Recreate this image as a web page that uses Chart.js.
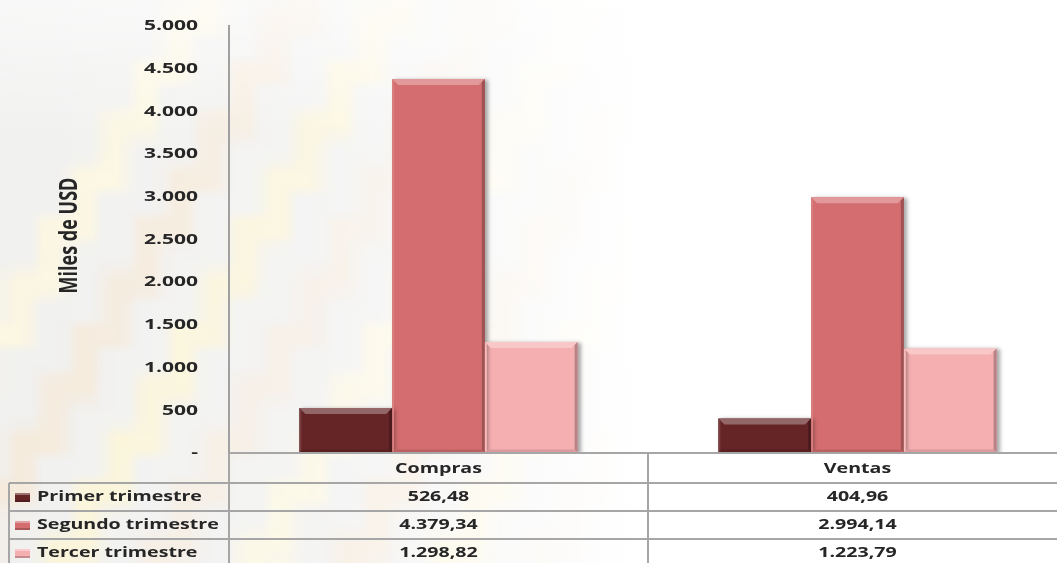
<!DOCTYPE html>
<html>
<head>
<meta charset="utf-8">
<script src="https://cdn.jsdelivr.net/npm/chart.js@4.4.0/dist/chart.umd.min.js"></script>
<style>
  html, body { margin: 0; padding: 0; background: #fff; overflow: hidden; }
  #wrap { width: 1067px; height: 563px; }
</style>
</head>
<body>
<div id="wrap"><canvas id="grafico"></canvas></div>
<script>
var categorias = ['Compras', 'Ventas'];
var series = ['Primer trimestre', 'Segundo trimestre', 'Tercer trimestre'];
var primer = [526.48, 404.96];
var segundo = [4379.34, 2994.14];
var tercer = [1298.82, 1223.79];
var tituloY = 'Miles de USD';
var colores = ['#652426', '#d46d6f', '#f6afb1'];

var ESTIRA = 1.4;   // el texto del original esta ensanchado
var TXT = '#262626';

function numES(v, dec) {
    var s = v.toFixed(dec);
    var partes = s.split('.');
    var ent = partes[0].replace(/\B(?=(\d{3})+(?!\d))/g, '.');
    return partes.length > 1 ? ent + ',' + partes[1] : ent;
}

function shade(hex, amt) {
    var n = parseInt(hex.slice(1), 16);
    var r = (n >> 16) & 255, g = (n >> 8) & 255, b = n & 255;
    function f(c) { return Math.max(0, Math.min(255, Math.round(amt > 0 ? c + (255 - c) * amt : c * (1 + amt)))); }
    return 'rgb(' + f(r) + ',' + f(g) + ',' + f(b) + ')';
}

function texto(ctx, s, x, y, align) {
    ctx.save();
    ctx.translate(x, y);
    ctx.scale(ESTIRA, 1);
    ctx.textAlign = align;
    ctx.fillText(s, 0, 0);
    ctx.restore();
}

// fondo con marca de agua pixelada
var fondo = {
    id: 'fondo',
    beforeDraw: function(chart) {
        var ctx = chart.ctx, W = chart.width, H = chart.height;
        var off = document.createElement('canvas');
        off.width = 88; off.height = 47;
        var o = off.getContext('2d');
        o.fillStyle = '#efefee';
        o.fillRect(0, 0, 88, 47);
        o.lineWidth = 2.2;
        var tonos = ['rgba(251,246,222,1)', 'rgba(244,232,216,1)', 'rgba(250,243,212,1)', 'rgba(243,234,222,1)'];
        for (var k = 0; k < 8; k++) {
            var x0 = -14 + k * 8, y0 = 50;
            o.strokeStyle = tonos[k % 4];
            o.beginPath();
            o.moveTo(x0, y0);
            for (var s = 0; s < 12; s++) {
                x0 += 2.6; o.lineTo(x0, y0);
                y0 -= 4.4; o.lineTo(x0, y0);
            }
            o.stroke();
        }
        ctx.save();
        ctx.imageSmoothingEnabled = true;
        ctx.drawImage(off, 0, 0, W, H);
        var g = ctx.createLinearGradient(0, 0, W, 0);
        g.addColorStop(0, 'rgba(255,255,255,0.1)');
        g.addColorStop(0.3, 'rgba(255,255,255,0.35)');
        g.addColorStop(0.6, 'rgba(255,255,255,1)');
        g.addColorStop(1, 'rgba(255,255,255,1)');
        ctx.fillStyle = g;
        ctx.fillRect(0, 0, W, H);
        var g2 = ctx.createLinearGradient(0, 0, 0, 140);
        g2.addColorStop(0, 'rgba(255,255,255,0.55)');
        g2.addColorStop(1, 'rgba(255,255,255,0)');
        ctx.fillStyle = g2;
        ctx.fillRect(0, 0, W, 140);
        ctx.restore();
    }
};

// etiquetas y titulo del eje Y, dibujados ensanchados
var ejeY = {
    id: 'ejeY',
    afterDraw: function(chart) {
        var ctx = chart.ctx, y = chart.scales.y;
        ctx.save();
        ctx.fillStyle = TXT;
        ctx.textBaseline = 'middle';
        ctx.font = 'bold 15px "Open Sans"';
        y.ticks.forEach(function(t, i) {
            var s = t.value === 0 ? '-' : numES(t.value, 0);
            texto(ctx, s, y.right - 31, y.getPixelForTick(i), 'right');
        });
        ctx.font = 'bold 18px "Open Sans"';
        ctx.translate(70, (y.top + y.bottom) / 2 - 4);
        ctx.scale(ESTIRA, 1);
        ctx.rotate(-Math.PI / 2);
        ctx.textAlign = 'center';
        ctx.fillText(tituloY, 0, 0);
        ctx.restore();
    }
};

// sombra y bisel de las barras
var bisel = {
    id: 'bisel',
    beforeDatasetsDraw: function(chart) {
        var ctx = chart.ctx;
        ctx.save();
        ctx.shadowColor = 'rgba(0,0,0,0.35)';
        ctx.shadowBlur = 4;
        ctx.shadowOffsetX = 3;
        ctx.shadowOffsetY = 1;
    },
    afterDatasetsDraw: function(chart) {
        var ctx = chart.ctx;
        ctx.restore();
        ctx.save();
        chart.data.datasets.forEach(function(ds, i) {
            chart.getDatasetMeta(i).data.forEach(function(bar) {
                var l = bar.x - bar.width / 2, r = bar.x + bar.width / 2;
                var t = bar.y, b = bar.base, e = 6;
                var c = colores[i];
                ctx.fillStyle = shade(c, 0.3);
                ctx.beginPath();
                ctx.moveTo(l, t); ctx.lineTo(r, t); ctx.lineTo(r - e, t + e); ctx.lineTo(l + e, t + e); ctx.closePath();
                ctx.fill();
                ctx.fillStyle = shade(c, -0.25);
                ctx.beginPath();
                ctx.moveTo(r, t); ctx.lineTo(r, b); ctx.lineTo(r - 3, b - 3); ctx.lineTo(r - 3, t + 3); ctx.closePath();
                ctx.fill();
                ctx.fillStyle = shade(c, -0.12);
                ctx.beginPath();
                ctx.moveTo(l, b); ctx.lineTo(r, b); ctx.lineTo(r - 3, b - 3); ctx.lineTo(l + 3, b - 3); ctx.closePath();
                ctx.fill();
                ctx.fillStyle = shade(c, 0.12);
                ctx.beginPath();
                ctx.moveTo(l, t); ctx.lineTo(l + 2, t + 2); ctx.lineTo(l + 2, b - 2); ctx.lineTo(l, b); ctx.closePath();
                ctx.fill();
            });
        });
        ctx.restore();
    }
};

// tabla de datos bajo el grafico
var tabla = {
    id: 'tabla',
    afterDraw: function(chart) {
        var ctx = chart.ctx, x = chart.scales.x, area = chart.chartArea;
        var top = area.bottom, hHead = 30, hRow = 28;
        var xLeft = 9, xMid = (x.getPixelForValue(0) + x.getPixelForValue(1)) / 2;
        var xEnd = chart.width;
        ctx.save();
        ctx.strokeStyle = '#a6a6a6';
        ctx.lineWidth = 2;
        ctx.beginPath();
        ctx.moveTo(area.left, top); ctx.lineTo(xEnd, top);
        for (var r = 0; r < 3; r++) {
            var yy = top + hHead + r * hRow;
            ctx.moveTo(xLeft, yy); ctx.lineTo(xEnd, yy);
        }
        ctx.moveTo(xLeft, top + hHead); ctx.lineTo(xLeft, chart.height);
        ctx.moveTo(area.left, top); ctx.lineTo(area.left, chart.height);
        ctx.moveTo(xMid, top); ctx.lineTo(xMid, chart.height);
        ctx.stroke();

        ctx.font = 'bold 14px "Open Sans"';
        ctx.fillStyle = TXT;
        ctx.textBaseline = 'middle';
        var centros = [x.getPixelForValue(0), x.getPixelForValue(1)];
        categorias.forEach(function(c, j) {
            texto(ctx, c, centros[j], top + hHead / 2 + 1, 'center');
        });
        var valores = [primer, segundo, tercer];
        series.forEach(function(s, i) {
            var yc = top + hHead + i * hRow + hRow / 2;
            ctx.fillStyle = colores[i];
            ctx.fillRect(15, yc - 4, 15, 9);
            ctx.fillStyle = shade(colores[i], 0.35);
            ctx.fillRect(15, yc - 4, 15, 2);
            ctx.fillStyle = shade(colores[i], -0.2);
            ctx.fillRect(15, yc + 3, 15, 2);
            ctx.fillStyle = TXT;
            texto(ctx, s, 37, yc, 'left');
            valores[i].forEach(function(v, j) {
                texto(ctx, numES(v, 2), centros[j], yc, 'center');
            });
        });
        ctx.restore();
    }
};

new Chart(document.getElementById('grafico').getContext('2d'), {
    type: 'bar',
    data: {
        labels: categorias,
        datasets: [
            { label: series[0], data: primer, backgroundColor: colores[0] },
            { label: series[1], data: segundo, backgroundColor: colores[1] },
            { label: series[2], data: tercer, backgroundColor: colores[2] }
        ]
    },
    options: {
        responsive: true,
        maintainAspectRatio: false,
        animation: false,
        layout: { padding: { top: 26, right: 0, bottom: 110, left: 0 } },
        datasets: { bar: { categoryPercentage: 0.664, barPercentage: 1 } },
        plugins: { legend: { display: false }, tooltip: { enabled: false } },
        scales: {
            x: { display: false },
            y: {
                min: 0, max: 5000,
                afterFit: function(scale) { scale.width = 229; },
                ticks: { stepSize: 500, display: false },
                grid: { drawOnChartArea: false, drawTicks: false },
                border: { display: true, color: '#a0a0a0', width: 2 }
            }
        }
    },
    plugins: [fondo, bisel, tabla, ejeY]
});
</script>
</body>
</html>
